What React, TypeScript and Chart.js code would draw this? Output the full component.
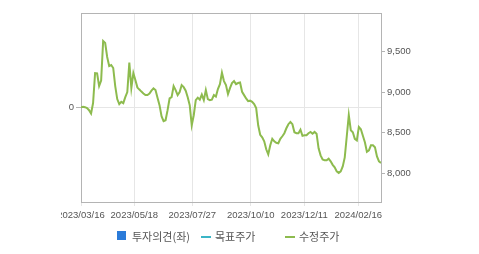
import React, { useEffect, useRef } from "react";
import { Chart, registerables } from "chart.js";

Chart.register(...registerables);

// 수정주가 (adjusted price), one reading roughly every 1.7 trading days
const priceValues = [
  8814, 8820, 8814, 8802, 8777, 8736, 8865, 9233, 9230, 9073,
  9140, 9627, 9603, 9430, 9319, 9331, 9295, 9073, 8913, 8851,
  8879, 8863, 8937, 8999, 9362, 9048, 9233, 9147, 9057, 9030,
  9005, 8983, 8962, 8962, 8980, 9017, 9044, 9024, 8931, 8839,
  8703, 8642, 8654, 8777, 8921, 8937, 9073, 9024, 8962, 8999,
  9085, 9060, 9017, 8937, 8839, 8592, 8715, 8900, 8931, 8906,
  8968, 8900, 9024, 8913, 8900, 8906, 8962, 8944, 9036, 9097,
  9237, 9134, 9085, 8974, 9048, 9110, 9134, 9097, 9110, 9116,
  9003, 8962, 8921, 8888, 8894, 8879, 8851, 8802, 8592, 8475,
  8444, 8395, 8297, 8235, 8346, 8426, 8395, 8377, 8371, 8426,
  8457, 8494, 8555, 8605, 8633, 8605, 8506, 8494, 8494, 8537,
  8463, 8469, 8469, 8494, 8510, 8488, 8510, 8488, 8309, 8223,
  8173, 8161, 8161, 8182, 8149, 8106, 8076, 8026, 8007, 8026,
  8087, 8198, 8457, 8716, 8531, 8506, 8426, 8407, 8571, 8543,
  8463, 8383, 8266, 8284, 8346, 8346, 8321, 8210, 8149, 8130,
];

const xTickPositions = [0, 26.5, 55.3, 84.3, 110.9, 137.7];
const xTickLabels = [
  "2023/03/16",
  "2023/05/18",
  "2023/07/27",
  "2023/10/10",
  "2023/12/11",
  "2024/02/16",
];
const leftTickValues = [0];
const rightTickValues = [8000, 8500, 9000, 9500];
const rightMin = 7650;
const rightMax = 9970;

const legendLabels = ["투자의견(좌)", "목표주가", "수정주가"];

const GREEN = "#8dbb4e";
const TEAL = "#3bb5c6";
const BLUE = "#2b7bd9";
const BORDER = "#b4b4b4";
const GRID = "#e6e6e6";
const TEXT = "#555555";

const topBorder = {
  id: "topBorder",
  afterDraw(chart: any) {
    const { ctx, chartArea } = chart;
    ctx.save();
    ctx.strokeStyle = BORDER;
    ctx.lineWidth = 1;
    ctx.beginPath();
    ctx.moveTo(chartArea.left, Math.round(chartArea.top) + 0.5);
    ctx.lineTo(chartArea.right, Math.round(chartArea.top) + 0.5);
    ctx.stroke();
    ctx.restore();
  },
};

export default function App() {
  const ref = useRef<HTMLCanvasElement | null>(null);

  useEffect(() => {
    if (!ref.current) return;
    const tickFont = { family: "'Liberation Sans', Arial, sans-serif", size: 9.5 };
    const chart = new Chart(ref.current, {
      type: "line",
      data: {
        datasets: [
          {
            label: legendLabels[2],
            data: priceValues.map((v, i) => ({ x: i, y: v })),
            borderColor: GREEN,
            borderWidth: 2,
            pointRadius: 0,
            tension: 0,
            yAxisID: "y1",
          },
        ],
      },
      options: {
        animation: false,
        responsive: false,
        layout: { padding: { top: 13, left: 0, right: 0, bottom: 0 }, autoPadding: false } as any,
        plugins: { legend: { display: false }, tooltip: { enabled: false } },
        scales: {
          x: {
            type: "linear",
            min: 0,
            max: priceValues.length - 1,
            afterBuildTicks: (axis: any) => {
              axis.ticks = xTickPositions.map((v) => ({ value: v }));
            },
            afterFit: (axis: any) => {
              axis.height = 52;
              axis.paddingLeft = 0;
              axis.paddingRight = 0;
            },
            ticks: {
              autoSkip: false,
              maxRotation: 0,
              padding: 4,
              color: TEXT,
              font: tickFont,
              callback: (_v: any, idx: number) => xTickLabels[idx],
            },
            grid: { color: GRID, tickColor: GRID, tickLength: 4 },
            border: { color: BORDER },
          },
          y: {
            position: "left",
            min: -1,
            max: 1,
            afterBuildTicks: (axis: any) => {
              axis.ticks = leftTickValues.map((v) => ({ value: v }));
            },
            afterFit: (axis: any) => {
              axis.width = 20;
            },
            ticks: { color: TEXT, font: tickFont, padding: 2 },
            grid: { color: GRID, tickColor: BORDER, tickLength: 5 },
            border: { color: BORDER },
          },
          y1: {
            position: "right",
            min: rightMin,
            max: rightMax,
            afterBuildTicks: (axis: any) => {
              axis.ticks = rightTickValues.map((v) => ({ value: v }));
            },
            afterFit: (axis: any) => {
              axis.width = 98;
            },
            ticks: {
              color: TEXT,
              font: tickFont,
              padding: 2,
              callback: (v: any) => Number(v).toLocaleString("en-US"),
            },
            grid: { drawOnChartArea: false, tickColor: BORDER, tickLength: 4 },
            border: { color: BORDER },
          },
        },
      },
      plugins: [topBorder],
    } as any);
    return () => chart.destroy();
  }, []);

  const legendFont: React.CSSProperties = {
    position: "absolute",
    top: 228,
    fontFamily: "'Noto Sans CJK KR', sans-serif",
    fontSize: 11,
    lineHeight: "16px",
    color: TEXT,
    whiteSpace: "nowrap",
  };

  return (
    <div
      style={{
        position: "fixed",
        left: 0,
        top: 0,
        width: 479,
        height: 254,
        background: "#fff",
        overflow: "hidden",
      }}
    >
      <canvas
        ref={ref}
        width={418}
        height={254}
        style={{ position: "absolute", left: 61, top: 0, width: 418, height: 254 }}
      />
      <div style={{ position: "absolute", left: 117, top: 231, width: 9, height: 9, background: BLUE }} />
      <div style={{ ...legendFont, left: 132 }}>{legendLabels[0]}</div>
      <div style={{ position: "absolute", left: 201, top: 236, width: 10, height: 2, background: TEAL }} />
      <div style={{ ...legendFont, left: 215 }}>{legendLabels[1]}</div>
      <div style={{ position: "absolute", left: 285, top: 236, width: 10, height: 2, background: GREEN }} />
      <div style={{ ...legendFont, left: 299 }}>{legendLabels[2]}</div>
    </div>
  );
}
